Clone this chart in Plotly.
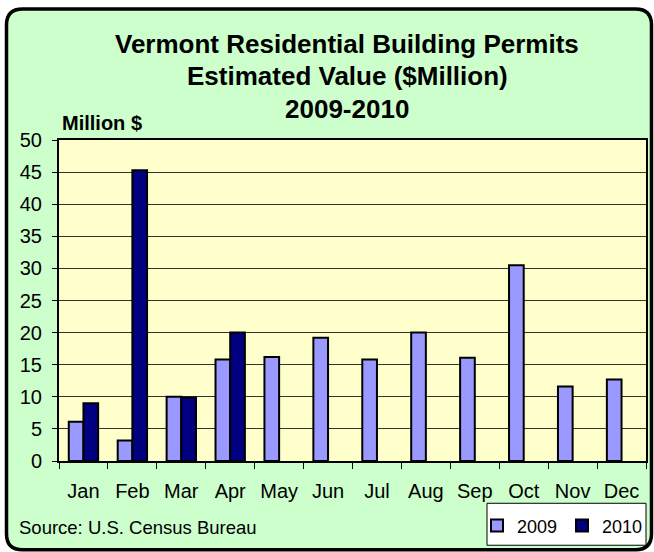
import plotly.graph_objects as go

months = ["Jan", "Feb", "Mar", "Apr", "May", "Jun", "Jul", "Aug", "Sep", "Oct", "Nov", "Dec"]
values_2009 = [6.1, 3.2, 10.0, 15.8, 16.2, 19.2, 15.8, 20.0, 16.1, 30.5, 11.6, 12.7]
values_2010 = [9.0, 45.3, 9.9, 20.0, None, None, None, None, None, None, None, None]
series_names = ["2009", "2010"]
y_ticks = [0, 5, 10, 15, 20, 25, 30, 35, 40, 45, 50]

W, H = 654, 552
L, R, T, B = 59, 646, 139.5, 460.7


def px(x):
    return (x - L) / (R - L)


def py(y):
    return (B - y) / (B - T)


FONT = "Liberation Sans, Arial, sans-serif"

fig = go.Figure()
fig.add_trace(go.Bar(x=months, y=values_2009, name=series_names[0],
                     marker=dict(color="#9999FF", line=dict(color="black", width=2))))
fig.add_trace(go.Bar(x=months, y=values_2010, name=series_names[1],
                     marker=dict(color="#000080", line=dict(color="black", width=2))))

# rounded frame
x0, x1, y0, y1, r = 6.5, 651.5, 8.5, 549.5, 16
path = (f"M{px(x0 + r)},{py(y0)} L{px(x1 - r)},{py(y0)} Q{px(x1)},{py(y0)} {px(x1)},{py(y0 + r)} "
        f"L{px(x1)},{py(y1 - r)} Q{px(x1)},{py(y1)} {px(x1 - r)},{py(y1)} "
        f"L{px(x0 + r)},{py(y1)} Q{px(x0)},{py(y1)} {px(x0)},{py(y1 - r)} "
        f"L{px(x0)},{py(y0 + r)} Q{px(x0)},{py(y0)} {px(x0 + r)},{py(y0)} Z")
shapes = [
    dict(type="path", path=path, xref="paper", yref="paper", fillcolor="#CCFFCC",
         line=dict(color="black", width=3.5), layer="below"),
    dict(type="rect", xref="paper", yref="paper", x0=0, x1=1, y0=0, y1=1,
         fillcolor="#FFFFCC", line=dict(width=0), layer="below"),
    dict(type="rect", xref="paper", yref="paper", x0=px(487), x1=px(646), y0=py(503), y1=py(545),
         fillcolor="white", line=dict(color="black", width=1), layer="above"),
]

annotations = []
for txt, yc in [("Vermont Residential Building Permits", 43),
                ("Estimated Value ($Million)", 75.5),
                ("2009-2010", 108.5)]:
    annotations.append(dict(text=f"<b>{txt}</b>", x=px(347), y=py(yc), xref="paper", yref="paper",
                            xanchor="center", yanchor="middle", showarrow=False,
                            font=dict(family=FONT, size=26, color="black")))
annotations.append(dict(text="<b>Million $</b>", x=px(60), y=py(122), xref="paper", yref="paper",
                        xanchor="left", yanchor="middle", showarrow=False,
                        font=dict(family=FONT, size=20, color="black")))
annotations.append(dict(text="Source: U.S. Census Bureau", x=px(17), y=py(527), xref="paper", yref="paper",
                        xanchor="left", yanchor="middle", showarrow=False,
                        font=dict(family=FONT, size=18.5, color="black")))

fig.update_layout(
    width=W, height=H,
    margin=dict(l=L, r=W - R, t=T, b=H - B, pad=0, autoexpand=False),
    paper_bgcolor="white",
    plot_bgcolor="rgba(0,0,0,0)",
    barmode="group", bargap=0.4, bargroupgap=0,
    shapes=shapes, annotations=annotations,
    showlegend=True,
    legend=dict(orientation="h", x=px(477), y=py(507), xanchor="left", yanchor="top",
                bgcolor="rgba(0,0,0,0)", borderwidth=0,
                font=dict(family=FONT, size=18, color="black"),
                entrywidth=40, entrywidthmode="pixels",
                itemsizing="constant", traceorder="normal"),
    font=dict(family=FONT, color="black"),
)
fig.update_xaxes(showgrid=False, tickson="boundaries", ticks="outside", ticklen=6, tickwidth=1,
                 tickcolor="black", showline=True, linecolor="black", linewidth=2, mirror=True,
                 tickfont=dict(family=FONT, size=20, color="black"), ticklabelstandoff=11)
fig.update_yaxes(range=[0, 50], tickvals=y_ticks, ticks="outside", ticklen=5, tickwidth=1,
                 tickcolor="black", showgrid=True, gridcolor="#333333", gridwidth=1,
                 zeroline=False, showline=True, linecolor="black", linewidth=2, mirror=True,
                 tickfont=dict(family=FONT, size=20, color="black"), ticklabelstandoff=6)

# remove the default page margin so the 654x552 figure fills the window exactly
fig.write_html("out.html", config={"displayModeBar": False},
               post_script="document.body.style.margin='0px';")
